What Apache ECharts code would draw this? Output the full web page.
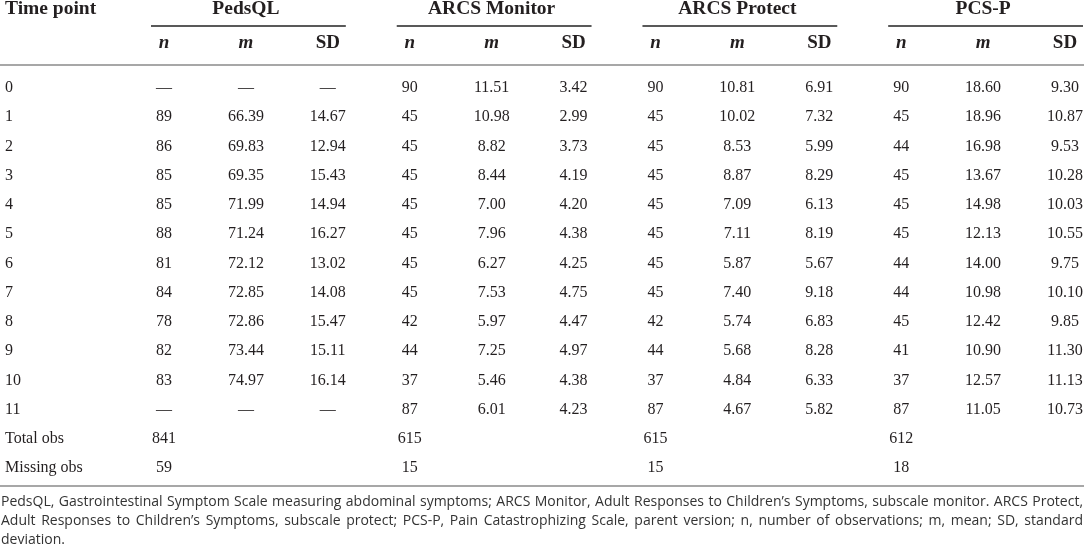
<!DOCTYPE html>
<html>
<head>
<meta charset="utf-8">
<script src="https://cdn.jsdelivr.net/npm/echarts@6/dist/echarts.min.js"></script>
<style>
  html, body { margin: 0; padding: 0; background: #fff; }
  #chart { width: 1084px; height: 552px; }
</style>
</head>
<body>
<div id="chart"></div>
<script>
// Tabellendaten
const timePoints = ['0', '1', '2', '3', '4', '5', '6', '7', '8', '9', '10', '11', 'Total obs', 'Missing obs'];
const groups = ['PedsQL', 'ARCS Monitor', 'ARCS Protect', 'PCS-P'];
const stats = ['n', 'm', 'SD'];

const pedsN = [null, 89, 86, 85, 85, 88, 81, 84, 78, 82, 83, null];
const pedsM = [null, 66.39, 69.83, 69.35, 71.99, 71.24, 72.12, 72.85, 72.86, 73.44, 74.97, null];
const pedsSD = [null, 14.67, 12.94, 15.43, 14.94, 16.27, 13.02, 14.08, 15.47, 15.11, 16.14, null];

const monN = [90, 45, 45, 45, 45, 45, 45, 45, 42, 44, 37, 87];
const monM = [11.51, 10.98, 8.82, 8.44, 7.00, 7.96, 6.27, 7.53, 5.97, 7.25, 5.46, 6.01];
const monSD = [3.42, 2.99, 3.73, 4.19, 4.20, 4.38, 4.25, 4.75, 4.47, 4.97, 4.38, 4.23];

const proN = [90, 45, 45, 45, 45, 45, 45, 45, 42, 44, 37, 87];
const proM = [10.81, 10.02, 8.53, 8.87, 7.09, 7.11, 5.87, 7.40, 5.74, 5.68, 4.84, 4.67];
const proSD = [6.91, 7.32, 5.99, 8.29, 6.13, 8.19, 5.67, 9.18, 6.83, 8.28, 6.33, 5.82];

const pcsN = [90, 45, 44, 45, 45, 45, 44, 44, 45, 41, 37, 87];
const pcsM = [18.60, 18.96, 16.98, 13.67, 14.98, 12.13, 14.00, 10.98, 12.42, 10.90, 12.57, 11.05];
const pcsSD = [9.30, 10.87, 9.53, 10.28, 10.03, 10.55, 9.75, 10.10, 9.85, 11.30, 11.13, 10.73];

const totalObs = [841, 615, 615, 612];
const missingObs = [59, 15, 15, 18];

const footnote = [
  'PedsQL, Gastrointestinal Symptom Scale measuring abdominal symptoms; ARCS Monitor, Adult Responses to Children\u2019s Symptoms, subscale monitor. ARCS Protect,',
  'Adult Responses to Children\u2019s Symptoms, subscale protect; PCS-P, Pain Catastrophizing Scale, parent version; n, number of observations; m, mean; SD, standard',
  'deviation.'
];

const TEXT = '#231f20';
const SERIF = '"Liberation Serif", "DejaVu Serif", serif';
const NOTE_FONT = '14px "Open Sans", sans-serif';

// Spalten: je Gruppe n, m, SD
const columns = [
  [pedsN, pedsM, pedsSD],
  [monN, monM, monSD],
  [proN, proM, proSD],
  [pcsN, pcsM, pcsSD]
];
const colKeys = [];
groups.forEach(() => stats.forEach((s) => colKeys.push(s)));

function fmt(v, statIdx) {
  if (v === null || v === undefined) return '\u2014';
  return statIdx === 0 ? String(v) : v.toFixed(2);
}

// Zellen aufbauen
const cells = [];
const cellText = [];
columns.forEach((cols, g) => {
  cols.forEach((arr, s) => {
    arr.forEach((v, r) => {
      cells.push([g * 3 + s, r]);
      cellText.push(fmt(v, s));
    });
  });
  cells.push([g * 3, 12]);
  cellText.push(String(totalObs[g]));
  cells.push([g * 3, 13]);
  cellText.push(String(missingObs[g]));
});

const groupData = groups.map((g, i) => [i * 3 + 1, 0]);

// Fußnote im Blocksatz (Wort für Wort verteilt)
const measure = document.createElement('canvas').getContext('2d');
measure.font = NOTE_FONT;
function noteLine(text, y, justify) {
  if (!justify) {
    return [{ type: 'text', x: 1, y: y, style: { text: text, font: NOTE_FONT, fill: '#333', verticalAlign: 'middle' } }];
  }
  const words = text.split(' ');
  const widths = words.map((w) => measure.measureText(w).width);
  const total = widths.reduce((a, b) => a + b, 0);
  const gap = (1082 - total) / (words.length - 1);
  let x = 1;
  return words.map((w, i) => {
    const el = { type: 'text', x: x, y: y, style: { text: w, font: NOTE_FONT, fill: '#333', verticalAlign: 'middle' } };
    x += widths[i] + gap;
    return el;
  });
}
let noteEls = [];
footnote.forEach((t, i) => {
  noteEls = noteEls.concat(noteLine(t, 502 + i * 19, i < footnote.length - 1));
});

const chart = echarts.init(document.getElementById('chart'), null, { renderer: 'canvas' });

const option = {
  backgroundColor: '#fff',
  animation: false,
  grid: { left: 164, right: 19, top: 88, bottom: 84 },
  xAxis: {
    type: 'category',
    data: colKeys,
    position: 'top',
    boundaryGap: false,
    axisLine: { show: false },
    axisTick: { show: false },
    splitLine: { show: false },
    axisLabel: {
      margin: 35,
      interval: 0,
      formatter: (v) => (v === 'SD' ? '{b|SD}' : '{i|' + v + '}'),
      rich: {
        b: { fontFamily: SERIF, fontSize: 19, fontWeight: 'bold', color: TEXT },
        i: { fontFamily: SERIF, fontSize: 19, fontWeight: 'bold', fontStyle: 'italic', color: TEXT }
      }
    }
  },
  yAxis: {
    type: 'category',
    data: timePoints,
    inverse: true,
    boundaryGap: false,
    axisLine: { show: false },
    axisTick: { show: false },
    splitLine: { show: false },
    axisLabel: {
      margin: 159,
      align: 'left',
      interval: 0,
      fontFamily: SERIF,
      fontSize: 16,
      color: TEXT
    }
  },
  graphic: [
    {
      type: 'text', x: 5, y: 9,
      style: { text: 'Time point', font: 'bold 19.5px ' + SERIF, fill: TEXT, verticalAlign: 'middle' }
    },
    { type: 'line', shape: { x1: 0, y1: 65, x2: 1084, y2: 65 }, style: { stroke: '#8a8a8a', lineWidth: 1.5 } },
    { type: 'line', shape: { x1: 0, y1: 486, x2: 1084, y2: 486 }, style: { stroke: '#8a8a8a', lineWidth: 1.5 } }
  ].concat(noteEls),
  series: [
    {
      type: 'custom',
      name: 'cells',
      coordinateSystem: 'cartesian2d',
      data: cells,
      renderItem: (params, api) => {
        const p = api.coord([api.value(0), api.value(1)]);
        return {
          type: 'text',
          x: p[0],
          y: p[1],
          style: {
            text: cellText[params.dataIndex],
            font: '16px ' + SERIF,
            fill: TEXT,
            align: 'center',
            verticalAlign: 'middle'
          }
        };
      }
    },
    {
      type: 'custom',
      name: 'groups',
      coordinateSystem: 'cartesian2d',
      clip: false,
      data: groupData,
      renderItem: (params, api) => {
        const col = api.value(0);
        const mid = api.coord([col, 0])[0];
        const x1 = api.coord([col - 1, 0])[0] - 13;
        const x2 = Math.min(api.coord([col + 1, 0])[0] + 18, 1084);
        return {
          type: 'group',
          children: [
            {
              type: 'text',
              x: mid,
              y: 9,
              style: {
                text: groups[params.dataIndex],
                font: 'bold 19.5px ' + SERIF,
                fill: TEXT,
                align: 'center',
                verticalAlign: 'middle'
              }
            },
            {
              type: 'line',
              shape: { x1: x1, y1: 26, x2: x2, y2: 26 },
              style: { stroke: '#222', lineWidth: 1.5 }
            }
          ]
        };
      }
    }
  ]
};

chart.setOption(option);
</script>
</body>
</html>
